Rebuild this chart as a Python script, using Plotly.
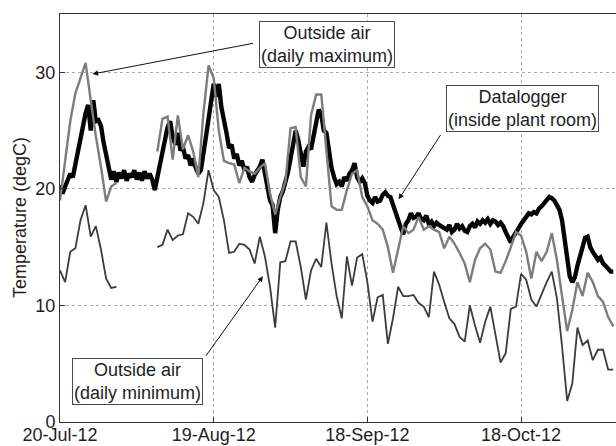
import pandas as pd
import plotly.graph_objects as go

START = "2012-07-20"

# Plant-room datalogger, one reading every 12 hours (degC)
logger_temp = [
    20.3, 19.6, 20.2, 20.8, 21.3, 21.0, 22.2, 23.0, 24.2, 25.4,
    26.5, 27.2, 25.0, 27.6, 25.8, 25.9, 25.4, 24.0, 22.8, 21.6,
    20.8, 21.5, 20.6, 21.4, 20.9, 21.6, 20.7, 21.3, 21.0, 21.6,
    20.8, 21.4, 20.7, 21.5, 20.9, 21.3, 20.8, 19.9, 21.0, 22.2,
    23.3, 24.5, 25.3, 25.8, 24.5, 23.8, 24.8, 23.3, 23.6, 22.6,
    22.9, 22.0, 22.6, 21.8, 21.3, 21.6, 22.8, 24.5, 26.0, 27.8,
    29.0, 27.9, 29.0, 27.0, 25.6, 24.8, 23.5, 23.8, 22.6, 23.0,
    22.0, 22.4, 21.6, 21.9, 21.0, 20.6, 21.2, 21.5, 21.9, 22.5,
    21.2, 20.2, 19.0, 18.6, 16.2, 18.2, 19.3, 19.8, 20.5, 21.4,
    22.6, 23.9, 25.0, 24.2, 23.0, 21.9, 23.2, 23.6, 23.4, 24.6,
    25.5, 26.8, 26.4, 25.0, 24.8, 23.0, 21.8, 21.0, 20.4, 20.6,
    20.2, 21.0, 20.7, 21.3, 21.6, 22.2, 21.0, 20.6, 20.9, 20.5,
    19.4, 19.0, 18.8, 19.3, 18.9, 19.0, 19.5, 19.7, 19.4, 19.3,
    18.6, 17.8, 17.2, 16.7, 16.1, 17.0, 17.3, 17.9, 17.5, 17.6,
    17.9, 17.4, 17.3, 17.7, 17.0, 17.2, 16.8, 17.1, 16.9, 16.8,
    16.6, 16.5, 16.9, 16.3, 16.5, 17.0, 16.6, 16.8, 16.4, 16.3,
    16.8, 17.0, 16.7, 17.2, 17.0, 17.3, 17.1, 17.4, 17.0, 17.3,
    17.2, 16.9, 17.1, 16.8, 16.3, 15.8, 15.4, 15.9, 16.2, 16.6,
    17.0, 17.3, 17.7, 17.9, 17.8, 18.0, 17.9, 18.3, 18.5, 18.8,
    19.0, 19.3, 19.2, 19.0, 18.6, 18.2, 17.3, 15.8, 14.0, 12.5,
    12.0, 12.4, 13.4, 14.2, 15.0, 15.8, 15.9, 15.0, 14.6, 14.2,
    13.9, 14.1, 13.6, 13.4, 13.1, 12.9, 12.9,
]

# Outside air, daily maximum (degC); None where no record exists
outside_max = [
    19.0, 22.2, 25.8, 28.2, 29.6, 30.8, 27.6, 24.5, 21.9, 18.9,
    20.2, 20.5, None, None, None, None, None, None, None, 23.2,
    26.0, 26.2, 22.5, 26.3, 23.4, 24.6, 23.2, 21.0, 26.5, 30.6,
    29.5, 25.0, 22.4, 22.2, 22.1, 20.5, 21.8, 21.5, 21.3, 21.8,
    22.2, 19.6, 17.8, 19.3, 20.6, 25.2, 25.3, 21.0, 20.2, 26.3,
    28.1, 28.1, 23.6, 18.5, 18.2, 18.2, 19.9, 21.3, 21.6, 19.3,
    18.5, 17.3, 17.0, 16.5, 15.0, 12.8, 14.8, 16.8, 16.2, 16.5,
    17.6, 16.5, 16.8, 16.5, 16.3, 14.9, 15.9, 15.3, 14.5, 13.6,
    12.0, 13.9, 14.9, 15.3, 14.8, 12.9, 12.8, 13.8, 15.0, 16.3,
    16.0, 14.6, 12.3, 14.6, 13.8, 14.6, 16.2, 13.9, 10.8, 7.8,
    9.6, 12.0, 10.8, 12.8, 12.0, 10.8, 10.3, 9.0, 8.2,
]

# Outside air, daily minimum (degC); None where no record exists
outside_min = [
    13.0, 12.0, 14.6, 14.9, 17.3, 18.6, 15.9, 16.8, 14.8, 12.3,
    11.5, 11.6, None, None, None, None, None, None, None, 15.0,
    15.2, 16.5, 15.6, 16.0, 16.1, 17.9, 17.6, 17.0, 18.8, 21.6,
    19.9, 19.3, 17.3, 14.5, 14.6, 15.3, 15.2, 14.8, 13.6, 15.9,
    14.2, 11.6, 8.1, 13.7, 13.8, 15.5, 15.5, 13.3, 10.5, 13.0,
    14.0, 13.3, 17.1, 13.6, 10.8, 8.9, 14.2, 11.7, 14.1, 14.4,
    12.0, 8.6, 10.7, 10.9, 6.7, 8.9, 11.6, 10.8, 10.8, 10.9,
    10.2, 9.9, 9.0, 12.9, 11.8, 10.3, 8.9, 8.4, 7.3, 6.9,
    10.0, 8.3, 6.8, 8.6, 9.9, 7.5, 5.1, 5.9, 9.7, 9.9,
    12.7, 12.2, 10.5, 9.9, 11.0, 12.0, 12.9, 10.6, 6.5, 1.8,
    3.3, 8.1, 6.6, 7.0, 5.3, 6.2, 6.2, 4.5, 4.5,
]

tick_dates = ["2012-07-20", "2012-08-19", "2012-09-18", "2012-10-18"]

logger_time = pd.date_range(START, periods=len(logger_temp), freq="12h")
daily_time = pd.date_range(START, periods=len(outside_max), freq="D")
t0 = pd.Timestamp(START)


def day(d):
    return t0 + pd.Timedelta(days=d)


W, H = 616, 446
ML, MR, MT, MB = 60, 0, 14, 24
PW, PH = W - ML - MR, H - MT - MB
FONT = "Liberation Sans, Arial, sans-serif"
TXT = "#1e1e1e"
GRID = "#a8a8a8"


def px(x, y):
    """Figure pixel -> paper coordinates."""
    return (x - ML) / PW, (H - MB - y) / PH


fig = go.Figure()
fig.add_trace(go.Scatter(x=logger_time, y=logger_temp, mode="lines",
                         line=dict(color="#050505", width=4.4),
                         name="Datalogger"))
fig.add_trace(go.Scatter(x=daily_time, y=outside_max, mode="lines",
                         line=dict(color="#7d7d7d", width=2.4),
                         connectgaps=False, name="Outside max"))
fig.add_trace(go.Scatter(x=daily_time, y=outside_min, mode="lines",
                         line=dict(color="#3c3c3c", width=1.8),
                         connectgaps=False, name="Outside min"))

# Labelled boxes
boxes = [
    ("Outside air<br>(daily maximum)", 326.5, 45),
    ("Datalogger<br>(inside plant room)", 522, 109),
    ("Outside air<br>(daily minimum)", 137, 381),
]
for text, bx, by in boxes:
    xp, yp = px(bx, by)
    fig.add_annotation(text=text, xref="paper", yref="paper", x=xp, y=yp,
                       xanchor="center", yanchor="middle", showarrow=False,
                       font=dict(family=FONT, size=18, color=TXT),
                       bgcolor="white", bordercolor="#4a4a4a", borderwidth=1,
                       borderpad=1)

# Arrows from each box to its curve
arrows = [
    (6.35, 29.85, 162, -31),
    (66.1, 19.1, 43, -66),
    (39.6, 12.5, -58, 81),
]
for d, v, ax, ay in arrows:
    fig.add_annotation(text="", x=day(d), y=v, xref="x", yref="y",
                       ax=ax, ay=ay, showarrow=True, arrowhead=2,
                       arrowsize=1.1, arrowwidth=1, arrowcolor="#111")

# Y axis title
xp, yp = px(20, 218)
fig.add_annotation(text="Temperature (degC)", xref="paper", yref="paper",
                   x=xp, y=yp, textangle=-90, showarrow=False,
                   xanchor="center", yanchor="middle",
                   font=dict(family=FONT, size=18, color=TXT))

fig.update_layout(
    width=W, height=H,
    margin=dict(l=ML, r=MR, t=MT, b=MB),
    paper_bgcolor="white", plot_bgcolor="white",
    showlegend=False,
    font=dict(family=FONT, size=18, color=TXT),
    xaxis=dict(
        type="date",
        range=[day(0), day(PW / 5.123)],
        tickvals=tick_dates, tickformat="%d-%b-%y",
        showgrid=True, gridcolor=GRID, griddash="dot", gridwidth=1,
        showline=True, linecolor="#333", linewidth=1, mirror=True,
        ticks="inside", ticklen=5, tickcolor="#333",
        ticklabelstandoff=-4,
        zeroline=False, automargin=False,
        tickfont=dict(family=FONT, size=18, color=TXT),
    ),
    yaxis=dict(
        range=[0, 35], tickvals=[0, 10, 20, 30],
        showgrid=True, gridcolor=GRID, griddash="dot", gridwidth=1,
        showline=True, linecolor="#333", linewidth=1, mirror=False,
        ticks="inside", ticklen=5, tickcolor="#333",
        zeroline=False, automargin=False,
        tickfont=dict(family=FONT, size=18, color=TXT),
    ),
)

fig.write_html("out.html")
